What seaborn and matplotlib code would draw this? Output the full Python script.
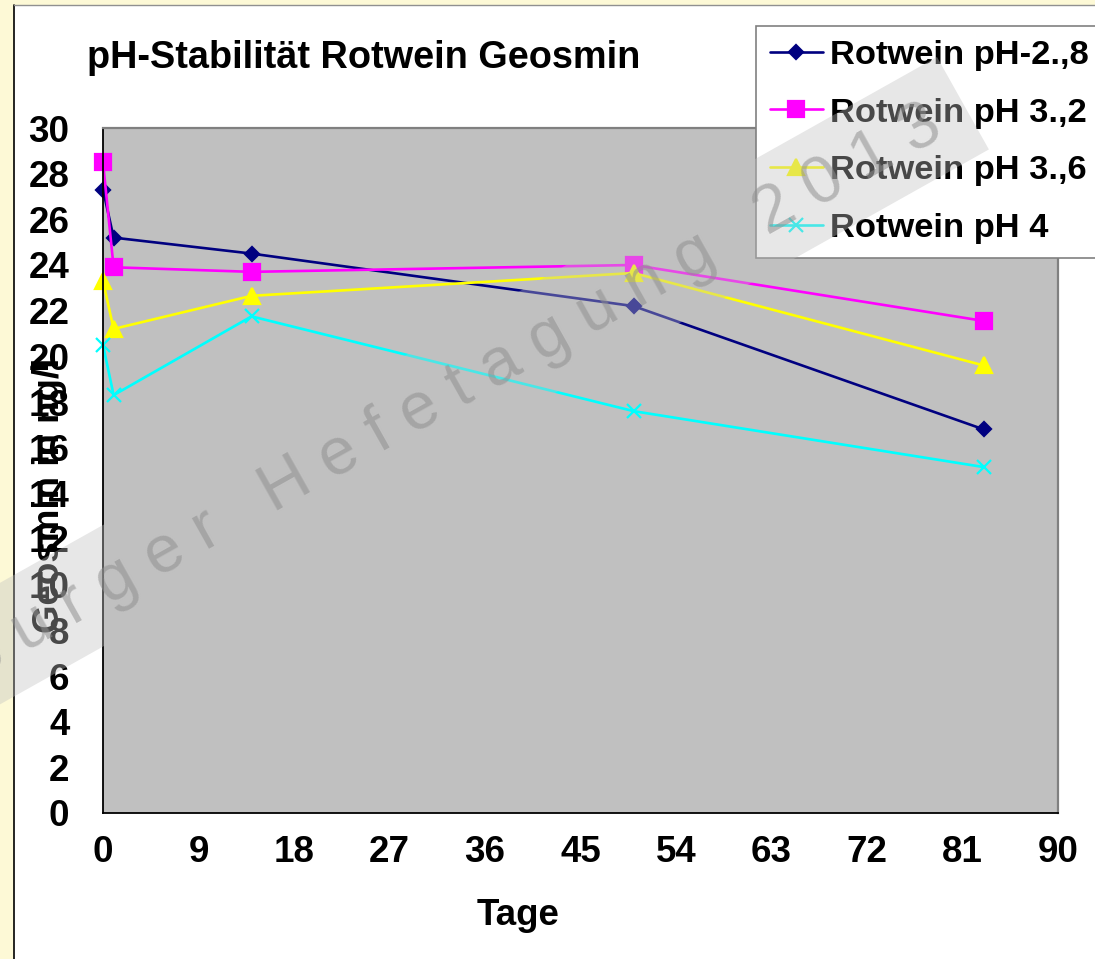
import matplotlib
matplotlib.use('Agg')
import matplotlib.pyplot as plt
import seaborn as sns
from matplotlib.patches import Rectangle, Polygon
from matplotlib.lines import Line2D
import numpy as np

# ---- data ----
days = [0, 1, 14, 50, 83]
ph28 = [27.3, 25.2, 24.5, 22.2, 16.8]
ph32 = [28.5, 23.9, 23.7, 24.0, 21.55]
ph36 = [23.3, 21.2, 22.65, 23.65, 19.6]
ph40 = [20.5, 18.3, 21.75, 17.6, 15.15]
series_names = ['Rotwein pH-2.,8', 'Rotwein pH 3.,2', 'Rotwein pH 3.,6', 'Rotwein pH 4']
x_ticks = [0, 9, 18, 27, 36, 45, 54, 63, 72, 81, 90]
y_ticks = list(range(0, 31, 2))
title = 'pH-Stabilität Rotwein Geosmin'
x_label = 'Tage'
y_label = 'Geosmin in ng/l'
watermark = 'W ü r z b u r g e r   H e f e t a g u n g   2 0 1 3'

# ---- styling ----
sns.set_style('white')
plt.rcParams['font.family'] = ['Liberation Sans', 'DejaVu Sans']
plt.rcParams['text.color'] = 'black'
plt.rcParams['xtick.color'] = 'black'
plt.rcParams['ytick.color'] = 'black'
plt.rcParams['axes.labelcolor'] = 'black'

W, H = 1095, 959
fig = plt.figure(figsize=(W / 100, H / 100), dpi=100)
fig.patch.set_facecolor('#FDF9D6')

def fx(px):
    return px / W

def fy(py):
    return 1 - py / H

# white chart area with border lines
fig.patches.append(Rectangle((fx(14), 0), 1 - fx(14), fy(5), transform=fig.transFigure,
                             facecolor='white', edgecolor='none', zorder=-10))
fig.lines.append(Line2D([fx(14), fx(14)], [0, fy(5)], transform=fig.transFigure,
                        color='black', lw=1.2, zorder=-9))
fig.lines.append(Line2D([fx(14), 1], [fy(5), fy(5)], transform=fig.transFigure,
                        color='#909090', lw=1.0, zorder=-9))

ax = fig.add_axes([fx(103), fy(813), fx(1058) - fx(103), fy(128) - fy(813)])
ax.set_facecolor('#C0C0C0')

series = [ph28, ph32, ph36, ph40]
colors = ['#000080', '#FF00FF', '#FFFF00', '#00FFFF']
markers = ['D', 's', '^', 'x']
msizes = [7.5, 11, 11, 10]

for vals, name, c, m, ms in zip(series, series_names, colors, markers, msizes):
    sns.lineplot(x=days, y=vals, ax=ax, color=c, marker=m, markersize=ms,
                 markeredgecolor=c, markerfacecolor=c, markeredgewidth=1.6,
                 linewidth=1.9, label=name, clip_on=False)

if ax.get_legend() is not None:
    ax.get_legend().remove()

ax.set_xlim(0, 90)
ax.set_ylim(0, 30)
ax.set_xticks(x_ticks)
ax.set_yticks(y_ticks)
ax.set_xlabel('')
ax.set_ylabel('')
ax.tick_params(axis='both', which='major', direction='out', length=7.2, width=1.0,
               color='#404040', labelcolor='black', labelsize=26.5)
ax.tick_params(axis='y', pad=17)
ax.tick_params(axis='x', pad=9)
for lab in ax.get_xticklabels() + ax.get_yticklabels():
    lab.set_fontweight('bold')
ax.grid(False)
for s in ['left', 'bottom']:
    ax.spines[s].set_color('black')
    ax.spines[s].set_linewidth(1.3)
for s in ['top', 'right']:
    ax.spines[s].set_color('#808080')
    ax.spines[s].set_linewidth(1.6)

# texts
fig.text(fx(87), fy(68), title, ha='left', va='baseline', fontsize=27.3, fontweight='bold',
         color='black')
fig.text(fx(518), fy(925), x_label, ha='center', va='baseline', fontsize=26.5,
         fontweight='bold', color='black')
fig.text(fx(59), fy(495), y_label, ha='center', va='baseline', rotation=90,
         rotation_mode='anchor', fontsize=26.5, fontweight='bold', color='black')

# legend
handles = ax.get_lines()[:4]
leg = fig.legend(handles, series_names, loc='upper left',
                 bbox_to_anchor=(fx(756), fy(26)), bbox_transform=fig.transFigure,
                 borderaxespad=0, frameon=True, fancybox=False, shadow=False,
                 prop={'family': 'Liberation Sans', 'weight': 'bold', 'size': 24.8},
                 handlelength=1.55, handletextpad=0.2, borderpad=0.4, labelspacing=0.77)
leg.get_frame().set_edgecolor('#808080')
leg.get_frame().set_linewidth(1.2)
leg.get_frame().set_facecolor('white')
leg.get_frame().set_alpha(1)
for t in leg.get_texts():
    t.set_color('black')

# watermark band and text
ang = np.deg2rad(29.3)
d = np.array([-np.cos(ang), np.sin(ang)])      # along band toward lower-left (pixel coords, y down)
p = np.array([np.sin(ang), np.cos(ang)])       # perpendicular, down-right
tr = np.array([937.0, 57.0])
width_px = 106
length_px = 1300
corners = [tr, tr + width_px * p, tr + width_px * p + length_px * d, tr + length_px * d]
poly = Polygon([(fx(c[0]), fy(c[1])) for c in corners], closed=True, transform=fig.transFigure,
               facecolor='#C0C0C0', edgecolor='none', alpha=0.38, zorder=20)
fig.patches.append(poly)

fig.text(fx(945), fy(136), watermark, ha='right', va='baseline', rotation=29.3,
         rotation_mode='anchor', fontsize=48, color='#8F8F8F', alpha=0.55, zorder=21)

fig.savefig('out.png', dpi=100)
